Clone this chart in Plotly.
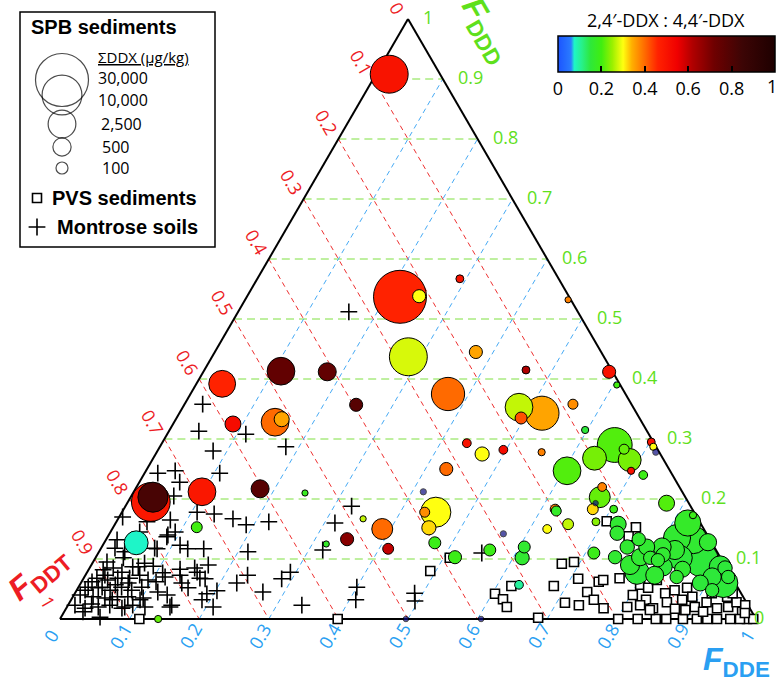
import plotly.graph_objects as go

# ---------------- data ----------------
# SPB sediments (bubbles): ternary fractions FDDD, FDDE (FDDT = 1 - FDDD - FDDE),
# sum DDX (ug/kg) and 2,4'-DDX : 4,4'-DDX ratio
spb_fddd = [0.908, 0.537, 0.538, 0.567, 0.532, 0.437, 0.445, 0.415, 0.412, 0.390,
            0.413, 0.412, 0.357, 0.375, 0.353, 0.343, 0.335, 0.358, 0.315, 0.293,
            0.392, 0.325, 0.328, 0.333, 0.212, 0.195, 0.203, 0.217, 0.210, 0.127,
            0.153, 0.167, 0.133, 0.125, 0.150, 0.275, 0.282, 0.278, 0.247, 0.268,
            0.250, 0.212, 0.178, 0.178, 0.152, 0.117, 0.127, 0.103, 0.142, 0.115,
            0.120, 0.102, 0.057, 0.183, 0.180, 0.150, 0.158, 0.110, 0.203, 0.220,
            0.183, 0.193, 0.162, 0.000, 0.000, 0.000, 0.290, 0.283, 0.295, 0.287,
            0.278, 0.265, 0.247, 0.240, 0.183, 0.193, 0.173, 0.158, 0.143, 0.103,
            0.120, 0.133, 0.120, 0.090, 0.078, 0.103, 0.102, 0.120, 0.107, 0.087,
            0.115, 0.123, 0.160, 0.102, 0.132, 0.128, 0.098, 0.070, 0.060, 0.087,
            0.083, 0.070, 0.060, 0.048, 0.085, 0.070, 0.098, 0.135, 0.073]
spb_fdde = [0.019, 0.220, 0.247, 0.291, 0.464, 0.282, 0.375, 0.462, 0.583, 0.605,
            0.111, 0.178, 0.247, 0.370, 0.483, 0.521, 0.495, 0.558, 0.597, 0.438,
            0.037, 0.086, 0.145, 0.152, 0.098, 0.033, 0.032, 0.179, 0.247, 0.046,
            0.120, 0.352, 0.346, 0.320, 0.388, 0.469, 0.496, 0.553, 0.605, 0.634,
            0.430, 0.416, 0.451, 0.435, 0.454, 0.413, 0.475, 0.516, 0.566, 0.560,
            0.607, 0.613, 0.631, 0.620, 0.623, 0.625, 0.651, 0.712, 0.674, 0.669,
            0.674, 0.673, 0.689, 0.497, 0.605, 0.141, 0.652, 0.669, 0.702, 0.709,
            0.717, 0.686, 0.697, 0.718, 0.704, 0.775, 0.823, 0.723, 0.729, 0.746,
            0.755, 0.765, 0.783, 0.774, 0.790, 0.782, 0.797, 0.805, 0.813, 0.823,
            0.826, 0.833, 0.822, 0.840, 0.844, 0.867, 0.873, 0.902, 0.923, 0.905,
            0.853, 0.851, 0.890, 0.913, 0.913, 0.925, 0.810, 0.819, 0.818]
spb_ddx = [8300, 30000, 140, 20, 8, 8300, 140, 20, 140, 8,
           2500, 475, 140, 5000, 2500, 5500, 100, 50, 14, 30,
           2200, 300, 2500, 240, 2500, 9000, 3400, 475, 8, 1400,
           70, 8, 140, 8, 850, 190, 30, 14, 2500, 1400,
           140, 8, 3400, 50, 190, 70, 100, 140, 8, 100,
           100, 190, 30, 50, 50, 30, 70, 100, 850, 30,
           70, 5, 20, 5, 5, 14, 6000, 50, 20, 14,
           8, 1200, 14, 30, 20, 300, 14, 300, 200, 150,
           200, 150, 300, 600, 1500, 400, 150, 500, 200, 500,
           600, 6000, 2000, 1500, 2500, 400, 5000, 500, 3000, 1000,
           300, 150, 300, 150, 200, 150, 150, 2300, 475]
spb_ratio = [0.50, 0.46, 0.30, 0.50, 0.38, 0.28, 0.35, 0.62, 0.50, 0.20,
             0.75, 0.75, 0.78, 0.40, 0.27, 0.35, 0.42, 0.37, 0.15, 0.50,
             0.46, 0.52, 0.40, 0.35, 0.49, 0.49, 0.82, 0.78, 0.18, 0.075,
             0.20, 0.27, 0.68, 0.17, 0.40, 0.30, 0.52, 0.38, 0.21, 0.23,
             0.40, 0.00, 0.30, 0.37, 0.32, 0.60, 0.19, 0.19, 0.00, 0.19,
             0.16, 0.16, 0.10, 0.38, 0.17, 0.30, 0.27, 0.19, 0.22, 0.38,
             0.32, 0.00, 0.24, 0.00, 0.00, 0.22, 0.21, 0.22, 0.50, 0.30,
             0.00, 0.23, 0.50, 0.19, 0.19, 0.21, 0.19, 0.16, 0.16, 0.16,
             0.16, 0.16, 0.16, 0.16, 0.15, 0.16, 0.16, 0.16, 0.16, 0.15,
             0.16, 0.16, 0.17, 0.15, 0.16, 0.16, 0.15, 0.15, 0.15, 0.15,
             0.16, 0.16, 0.15, 0.15, 0.15, 0.15, 0.16, 0.16, 0.16]

# PVS sediments (squares)
pvs_fddd = [0.000, 0.000, 0.080, 0.102, 0.092, 0.095, 0.067, 0.055, 0.055, 0.042,
            0.033, 0.020, 0.002, 0.027, 0.023, 0.045, 0.032, 0.062, 0.065, 0.018,
            0.163, 0.153, 0.138, 0.068, 0.000, 0.000, 0.040, 0.057, 0.052, 0.065,
            0.032, 0.018, 0.000, 0.043, 0.028, 0.017, 0.000, 0.048, 0.032, 0.052,
            0.037, 0.020, 0.000, 0.028, 0.000, 0.043, 0.018, 0.037, 0.020, 0.000,
            0.028, 0.012, 0.000, 0.000, 0.000, 0.000, 0.000, 0.068, 0.052, 0.043,
            0.023, 0.010, 0.015, 0.012, 0.023, 0.015, 0.020]
pvs_fdde = [0.114, 0.399, 0.492, 0.509, 0.675, 0.691, 0.711, 0.682, 0.621, 0.604,
            0.620, 0.632, 0.686, 0.712, 0.734, 0.735, 0.751, 0.743, 0.748, 0.772,
            0.704, 0.751, 0.748, 0.770, 0.802, 0.830, 0.803, 0.805, 0.819, 0.825,
            0.826, 0.843, 0.856, 0.848, 0.858, 0.875, 0.871, 0.859, 0.878, 0.875,
            0.890, 0.902, 0.915, 0.915, 0.930, 0.915, 0.935, 0.940, 0.950, 0.963,
            0.958, 0.974, 0.987, 0.996, 0.977, 0.944, 0.895, 0.888, 0.927, 0.945,
            0.973, 0.979, 0.891, 0.918, 0.822, 0.840, 0.805]

# Montrose soils (crosses)
mon_fddd = [0.512, 0.358, 0.313, 0.308, 0.280, 0.287, 0.243, 0.247, 0.228, 0.243,
            0.205, 0.178, 0.175, 0.167, 0.157, 0.162, 0.188, 0.160, 0.115, 0.165,
            0.145, 0.137, 0.117, 0.123, 0.117, 0.117, 0.112, 0.090, 0.078, 0.067,
            0.083, 0.077, 0.060, 0.052, 0.062, 0.040, 0.020, 0.042, 0.047, 0.020,
            0.060, 0.073, 0.045, 0.078, 0.067, 0.023, 0.053, 0.032, 0.088, 0.087,
            0.170, 0.068, 0.053, 0.035, 0.037, 0.020, 0.162, 0.140, 0.132, 0.118,
            0.112, 0.118, 0.095, 0.102, 0.082, 0.085, 0.078, 0.087, 0.068, 0.065,
            0.068, 0.065, 0.070, 0.073, 0.053, 0.052, 0.048, 0.053, 0.048, 0.040,
            0.037, 0.035, 0.037, 0.018, 0.020, 0.023, 0.018, 0.003, 0.048, 0.062,
            0.053, 0.045, 0.023, 0.020, 0.012, 0.043, 0.030, 0.110, 0.023, 0.025,
            0.032, 0.023, 0.057, 0.060, 0.073, 0.073, 0.032, 0.145, 0.093, 0.085,
            0.068, 0.032]
mon_fdde = [0.159, 0.026, 0.043, 0.113, 0.080, 0.181, 0.019, 0.042, 0.058, 0.108,
            0.061, 0.108, 0.134, 0.165, 0.189, 0.219, 0.325, 0.315, 0.320, 0.076,
            0.093, 0.085, 0.081, 0.111, 0.125, 0.148, 0.214, 0.168, 0.158, 0.175,
            0.131, 0.109, 0.145, 0.158, 0.107, 0.134, 0.148, 0.190, 0.202, 0.210,
            0.224, 0.233, 0.269, 0.292, 0.285, 0.336, 0.400, 0.409, 0.090, 0.069,
            0.005, 0.066, 0.091, 0.102, 0.079, 0.083, 0.044, 0.085, 0.016, 0.020,
            0.037, 0.077, 0.020, 0.040, 0.021, 0.034, 0.050, 0.061, 0.019, 0.036,
            0.049, 0.094, 0.116, 0.136, 0.014, 0.029, 0.048, 0.062, 0.079, 0.009,
            0.029, 0.047, 0.064, 0.027, 0.045, 0.060, 0.080, 0.056, 0.012, 0.015,
            0.034, 0.118, 0.149, 0.112, 0.027, 0.488, 0.495, 0.551, 0.093, 0.033,
            0.099, 0.010, 0.051, 0.068, 0.028, 0.078, 0.059, 0.042, 0.075, 0.151,
            0.167, 0.188]

grid_ticks = [0.1, 0.2, 0.3, 0.4, 0.5, 0.6, 0.7, 0.8, 0.9]
axis_ticks = [0, 0.1, 0.2, 0.3, 0.4, 0.5, 0.6, 0.7, 0.8, 0.9, 1]
axis_labels = ['0', '0.1', '0.2', '0.3', '0.4', '0.5', '0.6', '0.7', '0.8', '0.9', '1']

legend_ddx = [30000, 10000, 2500, 500, 100]
legend_ddx_labels = ['30,000', '10,000', '2,500', '500', '100']

cbar_tickvals = [0, 0.2, 0.4, 0.6, 0.8, 1]
cbar_ticktext = ['0', '0.2', '0.4', '0.6', '0.8', '1']

# ---------------- style ----------------
W, H = 776, 677
BL_X, BL_Y, SIDE_PX, HEIGHT_PX = 60, 619, 696, 600   # triangle placement in pixels
RED, GREEN, BLUE = '#ed1c24', '#5fe01c', '#2a9ff2'
GRID_RED, GRID_GREEN, GRID_BLUE = '#ee3030', '#7ee040', '#46aaf5'
NAVY = '#0c0c82'
FONT = 'Open Sans'
BOLD_FONT = 'Liberation Sans'
SIZE_K, SIZE_P = 3.617, 0.2604

colorscale = [[0.0, '#1c54ff'], [0.06, '#2a7cff'], [0.075, '#1ef5c8'], [0.11, '#28f08a'],
              [0.15, '#2ee83a'], [0.2, '#40ee10'], [0.25, '#9af000'], [0.3, '#ffff10'],
              [0.34, '#ffb000'], [0.4, '#ff6a00'], [0.46, '#ff2200'], [0.55, '#f00000'],
              [0.62, '#b00000'], [0.72, '#6e0000'], [0.85, '#3c0505'], [1.0, '#1e0000']]


def size_of(v):
    return SIZE_K * v ** SIZE_P


def tx(d, e):
    # ternary -> horizontal coordinate (FDDD is plotted on the vertical axis)
    return e + d / 2.0


def pxx(p):
    return (p - BL_X) / SIDE_PX


def pxy(p):
    return (BL_Y - p) / HEIGHT_PX


fig = go.Figure()


def add_lines(segs, color, dash, width=1.0):
    xs, ys = [], []
    for (d0, e0), (d1, e1) in segs:
        xs += [tx(d0, e0), tx(d1, e1), None]
        ys += [d0, d1, None]
    fig.add_trace(go.Scatter(x=xs, y=ys, mode='lines', hoverinfo='skip',
                             line=dict(color=color, width=width, dash=dash), showlegend=False))


# grid lines
add_lines([((1 - v, 0), (0, 1 - v)) for v in grid_ticks], GRID_RED, '5px,4px')     # FDDT const
add_lines([((v, 0), (v, 1 - v)) for v in grid_ticks], GRID_GREEN, '8px,5px')       # FDDD const
add_lines([((0, v), (1 - v, v)) for v in grid_ticks], GRID_BLUE, '5px,4px')        # FDDE const
# triangle
add_lines([((0, 0), (0, 1)), ((0, 1), (1, 0)), ((1, 0), (0, 0))], 'black', 'solid', 2)

# Montrose soils
fig.add_trace(go.Scatter(x=[tx(d, e) for d, e in zip(mon_fddd, mon_fdde)], y=mon_fddd,
                         mode='markers', showlegend=False,
                         marker=dict(symbol='cross-thin', size=12, color='black',
                                     line=dict(color='black', width=1.6))))
# PVS sediments
fig.add_trace(go.Scatter(x=[tx(d, e) for d, e in zip(pvs_fddd, pvs_fdde)], y=pvs_fddd,
                         mode='markers', showlegend=False,
                         marker=dict(symbol='square', size=9, color='white',
                                     line=dict(color='black', width=1.6))))

# SPB sediments bubbles: largest first so that small ones lie on top
order = sorted(range(len(spb_ddx)), key=lambda i: -spb_ddx[i])
col = [i for i in order if spb_ratio[i] > 0]
nav = [i for i in order if spb_ratio[i] == 0]
fig.add_trace(go.Scatter(
    x=[tx(spb_fddd[i], spb_fdde[i]) for i in col], y=[spb_fddd[i] for i in col],
    mode='markers', showlegend=False,
    marker=dict(size=[size_of(spb_ddx[i]) for i in col], color=[spb_ratio[i] for i in col],
                colorscale=colorscale, cmin=0, cmax=1, opacity=1,
                line=dict(color='black', width=1),
                showscale=True,
                colorbar=dict(orientation='h', x=(558 + 775) / 2 / W, xanchor='center',
                              y=1 - 36 / H, yanchor='top', len=217 / W, lenmode='fraction',
                              thickness=36, thicknessmode='pixels', xpad=0, ypad=0,
                              outlinewidth=1.5, outlinecolor='black',
                              ticks='inside', ticklen=6, tickwidth=1.5, tickcolor='black',
                              tickvals=cbar_tickvals, ticktext=cbar_ticktext,
                              tickfont=dict(family=FONT, size=18, color='black')))))
fig.add_trace(go.Scatter(
    x=[tx(spb_fddd[i], spb_fdde[i]) for i in nav], y=[spb_fddd[i] for i in nav],
    mode='markers', showlegend=False,
    marker=dict(size=[size_of(spb_ddx[i]) for i in nav], color=NAVY,
                line=dict(color='black', width=1))))

# legend glyphs
leg_cy = [80, 95, 124, 147, 168]
fig.add_trace(go.Scatter(x=[pxx(62)] * 5, y=[pxy(c) for c in leg_cy], mode='markers',
                         showlegend=False,
                         marker=dict(size=[size_of(v) for v in legend_ddx], color='rgba(0,0,0,0)',
                                     line=dict(color='black', width=1.2))))
fig.add_trace(go.Scatter(x=[pxx(37)], y=[pxy(198)], mode='markers', showlegend=False,
                         marker=dict(symbol='square', size=9, color='white',
                                     line=dict(color='black', width=1.6))))
fig.add_trace(go.Scatter(x=[pxx(37)], y=[pxy(227)], mode='markers', showlegend=False,
                         marker=dict(symbol='cross-thin', size=12, color='black',
                                     line=dict(color='black', width=1.6))))

ann = []
TICK_SIZE = 18
# axis tick labels
for v, lab in zip(axis_ticks, axis_labels):
    # FDDT (left edge); the label at the apex sits a little closer
    ann.append(dict(x=tx(1 - v, 0), y=1 - v, text=lab, textangle=60,
                    xshift=(-11 if v == 0 else -12), yshift=(11 if v == 0 else 17),
                    showarrow=False, font=dict(family=FONT, size=TICK_SIZE, color=RED)))
    # FDDE (bottom edge)
    ann.append(dict(x=v, y=0, text=lab, textangle=-60, xshift=-9, yshift=-17,
                    showarrow=False, font=dict(family=FONT, size=TICK_SIZE, color=BLUE)))
    # FDDD (right edge)
    ann.append(dict(x=tx(v, 1 - v), y=v, text=lab, xanchor='left',
                    xshift=(13 if v > 0 else -4), yshift=2,
                    showarrow=False, font=dict(family=FONT, size=TICK_SIZE, color=GREEN)))
for a in ann:
    a.update(xref='x', yref='y')


def pann(px, py, text, size, color='black', family=FONT, xanchor='center', angle=0):
    ann.append(dict(xref='paper', yref='paper', x=px / W, y=1 - py / H, text=text,
                    xanchor=xanchor, yanchor='middle', textangle=angle, showarrow=False,
                    font=dict(family=family, size=size, color=color)))


# axis titles
pann(39, 574, '<b><i>F</i><sub>DDT</sub></b>', 32, RED, BOLD_FONT, angle=-40)
pann(485, 31, '<b><i>F</i><sub>DDD</sub></b>', 32, GREEN, BOLD_FONT, angle=60)
pann(736, 661, '<b><i>F</i><sub>DDE</sub></b>', 32, BLUE, BOLD_FONT)
# colorbar title and its last tick label (which plotly drops at the page edge)
pann(666, 20, '2,4′-DDX : 4,4′-DDX', 18)
pann(772, 86, cbar_ticktext[-1], 18)
# legend texts
pann(29, 27, '<b>SPB sediments</b>', 20, family=BOLD_FONT, xanchor='left')
pann(96, 57, '<u>ΣDDX (µg/kg)</u>', 15, xanchor='left')
for lab, cy, lx in zip(legend_ddx_labels, [78, 100, 124, 147, 168], [96, 96, 99, 100, 100]):
    pann(lx, cy, lab, 16, xanchor='left')
pann(50, 198, '<b>PVS sediments</b>', 20, family=BOLD_FONT, xanchor='left')
pann(55, 227, '<b>Montrose soils</b>', 20, family=BOLD_FONT, xanchor='left')

fig.update_layout(
    width=W, height=H, margin=dict(l=0, r=0, t=0, b=0, pad=0, autoexpand=False),
    paper_bgcolor='white', plot_bgcolor='white', showlegend=False,
    xaxis=dict(range=[pxx(0), pxx(W)], visible=False, fixedrange=True),
    yaxis=dict(range=[pxy(H), pxy(0)], visible=False, fixedrange=True),
    annotations=ann,
    shapes=[dict(type='rect', xref='paper', yref='paper', x0=20 / W, x1=215 / W,
                 y0=1 - 247 / H, y1=1 - 12 / H, line=dict(color='black', width=1.5),
                 fillcolor='white', layer='below')],
)

fig.write_html('out.html', config={'displayModeBar': False},
               post_script="document.body.style.margin='0px';")
